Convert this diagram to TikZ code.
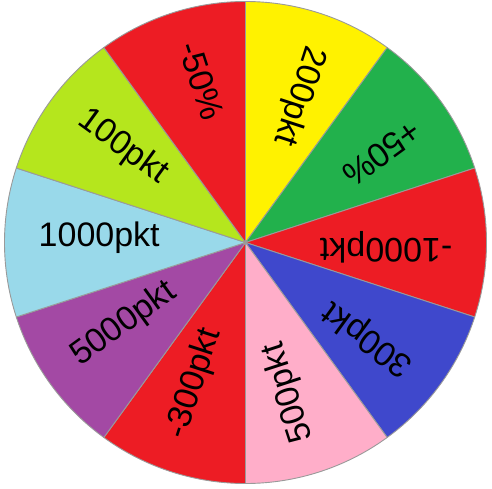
\documentclass[tikz,border=0pt]{standalone}
\usepackage{fontspec}
\setmainfont{Liberation Sans}
\usetikzlibrary{calc}
\definecolor{wred}{HTML}{ED1C24}
\definecolor{wyellow}{HTML}{FFF200}
\definecolor{wgreen}{HTML}{22B14C}
\definecolor{wblue}{HTML}{3F48CC}
\definecolor{wpink}{HTML}{FFAEC9}
\definecolor{wpurple}{HTML}{A349A4}
\definecolor{wlblue}{HTML}{99D9EA}
\definecolor{wlime}{HTML}{B5E61D}
\definecolor{wedge}{HTML}{9A9A9A}
\begin{document}
\begin{tikzpicture}[x=1pt,y=1pt,
  sector/.style={draw=wedge,line width=0.9pt,line join=round},
  lbl/.style={anchor=west,inner sep=0pt,text height=0.716em,text depth=0pt,
    font=\fontsize{34}{40}\selectfont}]
\useasboundingbox (0,0) rectangle (492,488);
\coordinate (c) at (245.5,245.5);
\foreach \a/\t/\col/\n in {90/200pkt/wyellow/s1, 54/+50\%/wgreen/s2, 18/-1000pkt/wred/s3,
  -18/300pkt/wblue/s4, -54/500pkt/wpink/s5, -90/-300pkt/wred/s6,
  -126/5000pkt/wpurple/s7, -162/1000pkt/wlblue/s8, -198/100pkt/wlime/s9,
  -234/-50\%/wred/s10}{
  \pgfmathsetmacro{\b}{\a-36}
  \pgfmathsetmacro{\m}{\a-18}
  \pgfmathsetmacro{\r}{\a-198}
  \fill[\col] (c) -- ++(\a:241) arc[start angle=\a,end angle=\b,radius=241] -- cycle;
  \draw[sector] (c) -- ++(\a:241) arc[start angle=\a,end angle=\b,radius=241] -- cycle;
  \node[lbl,rotate=\r] (\n) at ($(c)+(\m:207)$) {\t};
}
\end{tikzpicture}
\end{document}
